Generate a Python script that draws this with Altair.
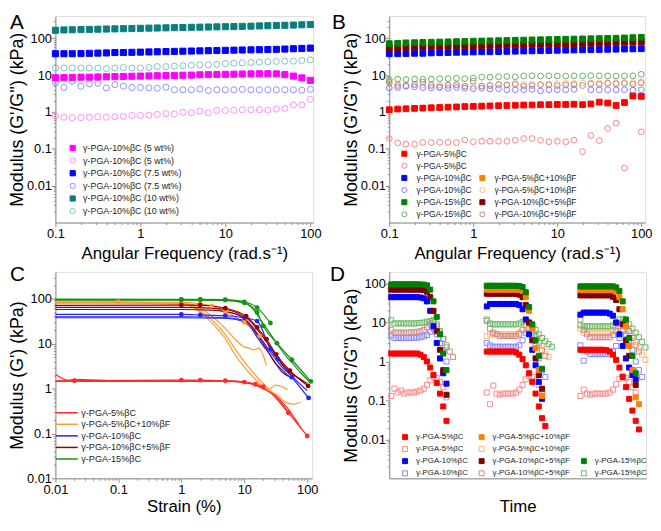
import altair as alt
import pandas as pd

FONT = "Liberation Sans"
GRAY = "#8c8c8c"

# ---------------- tick values ----------------
FREQ_TICKS = [0.1, 1, 10, 100]
MOD_TICKS = [0.01, 0.1, 1, 10, 100]
STRAIN_TICKS = [0.01, 0.1, 1, 10, 100]

# ---------------- panel A (frequency sweep, concentrations) ----------------
FREQ = [0.1, 0.126, 0.158, 0.2, 0.251, 0.316, 0.398, 0.501, 0.631, 0.794,
        1, 1.26, 1.58, 2, 2.51, 3.16, 3.98, 5.01, 6.31, 7.94,
        10, 12.6, 15.8, 20, 25.1, 31.6, 39.8, 50.1, 63.1, 79.4, 100]

A_LABELS = ["γ-PGA-10%βC (5 wt%)", "γ-PGA-10%βC (5 wt%)",
            "γ-PGA-10%βC (7.5 wt%)", "γ-PGA-10%βC (7.5 wt%)",
            "γ-PGA-10%βC (10 wt%)", "γ-PGA-10%βC (10 wt%)"]
A5_GP = [8.5, 8.6, 8.7, 8.8, 8.8, 8.9, 9.0, 9.1, 9.2, 9.3, 9.4, 9.5, 9.6, 9.7, 9.8,
         9.9, 10.0, 10.2, 10.3, 10.4, 10.5, 10.6, 10.7, 10.8, 10.9, 10.9, 10.8, 10.3, 9.4, 8.4, 7.2]
A5_GPP = [0.78, 0.72, 0.70, 0.70, 0.72, 0.74, 0.72, 0.74, 0.76, 0.80, 0.80, 0.82, 0.86, 0.90, 0.88,
          0.98, 0.95, 1.05, 0.95, 1.1, 1.1, 1.1, 1.15, 1.15, 1.15, 1.12, 1.2, 1.25, 1.55, 1.55, 2.2]
A75_GP = [38, 38, 38, 38.5, 39, 39.5, 40, 41, 41, 41.5, 42, 42.5, 43, 43.5, 44, 44.5,
          45, 45.5, 46, 46.5, 47, 47.5, 48, 48.5, 49, 49.5, 50, 51, 52, 53, 54]
A75_GPP = [6.2, 4.6, 6.8, 5.0, 5.8, 6.0, 4.5, 5.5, 5.0, 4.6, 4.6, 4.5, 4.4, 4.7, 4.0, 4.0,
           4.0, 4.2, 3.8, 4.0, 4.0, 4.0, 4.1, 4.0, 4.0, 4.0, 4.0, 4.0, 4.0, 3.9, 4.1]
A10_GP = [165, 168, 170, 172, 174, 176, 178, 180, 182, 184, 186, 188, 190, 192, 194, 196,
          198, 200, 202, 204, 206, 208, 210, 213, 216, 219, 222, 225, 228, 232, 235]
A10_GPP = [15.5, 15.5, 15.5, 15.5, 15.5, 15.5, 15.0, 15.5, 16.0, 15.5, 15.5, 16.0, 17.0, 17.0,
           17.5, 18.0, 18.5, 19.0, 19.0, 19.5, 20.5, 21.0, 21.5, 22.0, 22.5, 23.0, 23.5, 24.0,
           24.0, 25.0, 26.0]
A_VALUES = [A5_GP, A5_GPP, A75_GP, A75_GPP, A10_GP, A10_GPP]
A_FILL = ["#ff00ff", "transparent", "#0000ff", "transparent", "#0b7d7d", "transparent"]
A_STROKE = ["#ff00ff", "#ff8cff", "#0000ff", "#8f8fff", "#0b7d7d", "#7fc2c2"]
A_SHAPE = ["square", "circle", "square", "circle", "square", "circle"]
A_ORDER = [5, 3, 1, 4, 2, 0]

# ---------------- panel B (frequency sweep, compositions) ----------------
# legend entries listed column by column (2 columns x 6 rows)
B_LABELS = ["γ-PGA-5%βC", "γ-PGA-5%βC", "γ-PGA-10%βC", "γ-PGA-10%βC",
            "γ-PGA-15%βC", "γ-PGA-15%βC", "", "",
            "γ-PGA-5%βC+10%βF", "γ-PGA-5%βC+10%βF", "γ-PGA-10%βC+5%βF", "γ-PGA-10%βC+5%βF"]
B_RED_GP = [1.15, 1.2, 1.22, 1.25, 1.27, 1.3, 1.32, 1.35, 1.37, 1.4, 1.42, 1.44, 1.46, 1.48, 1.5,
            1.52, 1.54, 1.55, 1.57, 1.58, 1.6, 1.6, 1.62, 1.58, 1.65, 1.85, 1.75, 1.5, 1.8, 2.7, 2.65]
B_RED_GPP = [0.19, 0.145, 0.134, 0.134, 0.148, 0.148, 0.15, 0.15, 0.148, 0.174, 0.155, 0.16, 0.16,
             0.16, 0.16, 0.17, 0.19, 0.19, 0.17, 0.155, 0.16, 0.155, 0.17, 0.084, 0.23, 0.167,
             0.355, 0.5, 0.03, None, 0.29]
B_BLUE_GP = [38, 38, 38.5, 39, 39, 40, 40.5, 41, 41.5, 42, 42.5, 43, 43, 43.5, 44, 44.5, 45,
             45.5, 46, 46.5, 47, 47.5, 48, 48.5, 49, 49.5, 50, 50.5, 51, 51.5, 52]
B_BLUE_GPP = [4.5, 4.6, 5.0, 4.8, 4.6, 4.5, 4.6, 4.4, 4.6, 4.4, 4.3, 4.4, 4.2, 4.3, 4.0, 4.0,
              4.0, 4.1, 3.7, 4.0, 4.0, 4.0, 4.1, None, 4.0, 4.0, 4.0, 4.0, 4.0, 3.9, 4.0]
B_ORG_GP = [53, 54, 55, 56, 57, 58, 58, 59, 60, 60, 61, 62, 62, 63, 64, 64, 65, 66, 67, 68,
            68, 69, 70, 71, 72, 73, 74, 75, 76, 77, 78]
B_ORG_GPP = [6.0, 5.8, 5.5, 5.5, 5.4, 5.5, 5.4, 5.3, 5.2, 5.0, 5.0, 5.1, 5.2, 5.3, 5.4, 5.5,
             5.6, 5.7, 5.6, 5.8, 5.9, 6.0, 6.0, 6.1, 6.0, 6.1, 6.2, 6.2, 6.3, 6.3, 6.4]
B_GRN_GP = [71, 73, 75, 76, 77, 78, 79, 80, 81, 82, 83, 84, 85, 86, 87, 88, 89, 90, 91, 92,
            93, 94, 95, 96, 97, 98, 99, 100, 102, 104, 106]
B_GRN_GPP = [7.5, 7.8, 7.6, 7.8, 7.7, 7.8, 8.0, 8.0, 8.2, 8.0, 8.3, 8.8, 8.8, 9.0, 9.2, 9.0,
             9.5, 9.6, 9.5, 9.6, 9.5, 9.4, 9.6, 9.5, 9.7, 9.6, 9.5, 9.4, 9.5, 9.6, 10.5]
B_DRD_GP = [55, 56, 57, 58, 59, 60, 60, 61, 62, 62, 63, 64, 64, 65, 66, 66, 67, 68, 69, 70,
            70, 71, 72, 73, 74, 75, 76, 77, 78, 79, 80]
B_DRD_GPP = [6.5, 5.2, 5.0, 5.6, 6.5, 5.2, 4.8, 5.3, 5.5, 5.0, 6.8, 5.0, 5.2, 5.6, 5.4, 5.8,
             5.0, 5.2, 5.5, 5.4, 5.2, 5.4, 5.5, 5.2, 5.8, 5.6, 6.0, 5.8, 6.0, 5.7, 6.2]
B_VALUES = [B_RED_GP, B_RED_GPP, B_BLUE_GP, B_BLUE_GPP, B_GRN_GP, B_GRN_GPP, None, None,
            B_ORG_GP, B_ORG_GPP, B_DRD_GP, B_DRD_GPP]

RED, RED_L = "#ff0000", "#ff8080"
BLU, BLU_L = "#0000ff", "#8080ff"
GRN, GRN_L = "#008000", "#60b060"
ORG, ORG_L = "#ff8000", "#ffbf80"
DRD, DRD_L = "#800000", "#c48484"
T = "transparent"
B_FILL = [RED, T, BLU, T, GRN, T, T, T, ORG, T, DRD, T]
B_STROKE = [RED, RED_L, BLU, BLU_L, GRN, GRN_L, T, T, ORG, ORG_L, DRD, DRD_L]
B_SHAPE = ["square", "circle", "square", "circle", "square", "circle", "circle", "circle",
           "square", "circle", "square", "circle"]
B_ORDER = [8, 9, 11, 3, 5, 1, 0, 2, 10, 4]

# ---------------- panel C (strain sweep) ----------------
C_GROUPS = ["γ-PGA-5%βC", "γ-PGA-5%βC+10%βF", "γ-PGA-10%βC", "γ-PGA-10%βC+5%βF", "γ-PGA-15%βC"]
C_COLORS = ["#ff2a2a", "#ff9b30", "#2323ff", "#9b0000", "#139413"]
# (group, strain %, G' kPa, drawn with markers)
C_REPS = [
    (0, [0.01, 0.02, 1, 2, 5, 10, 15, 20, 50, 100],
        [1.5, 1.5, 1.55, 1.55, 1.5, 1.4, 1.25, 1.1, 0.29, 0.088], True),
    (0, [0.01, 0.0158, 0.02, 0.1, 1, 5, 10, 15, 20, 30, 40, 50, 63, 80],
        [2.1, 1.55, 1.6, 1.5, 1.5, 1.5, 1.4, 1.25, 1.05, 0.75, 0.5, 0.35, 0.22, 0.13], False),
    (0, [0.01, 0.1, 1, 5, 10, 15, 20, 30, 40, 50],
        [1.45, 1.45, 1.45, 1.45, 1.35, 1.2, 1.0, 0.7, 0.45, 0.3], False),
    (1, [0.01, 0.1, 1, 2, 3, 5, 10, 17.6],
        [86, 86, 84, 78, 70, 50, 30, 15], True),
    (1, [0.01, 0.1, 1, 1.5, 2, 3, 5, 7, 10, 12, 14, 17, 22.5],
        [84, 84, 80, 74, 62, 42, 22, 13, 8.5, 8.0, 7.3, 8.0, 3.3], False),
    (1, [0.01, 0.1, 1, 1.5, 2, 3, 5, 7, 10, 15, 20, 25, 32, 40, 48.5],
        [82, 82, 78, 70, 55, 35, 16, 8, 4, 2, 1.3, 1.0, 1.2, 1.1, 0.95], False),
    (1, [0.01, 0.1, 1, 1.5, 2, 3, 5, 7, 10, 15, 20, 25, 32, 45, 60, 78],
        [80, 80, 76, 66, 50, 30, 13, 6, 3, 1.6, 1.1, 0.9, 0.74, 0.5, 0.45, 0.49], False),
    (2, [0.01, 1, 2, 5, 10, 16, 26, 34, 57, 105],
        [45, 45, 44, 42, 38, 32, 7.6, 4.6, 1.8, 0.62], True),
    (2, [0.01, 0.1, 1, 5, 10, 13, 16, 20, 25, 30, 40, 55, 80, 100],
        [40, 40, 40, 38, 33, 25, 17, 11, 7, 5, 3, 2, 1.2, 0.9], False),
    (2, [0.01, 0.1, 1, 5, 10, 13, 16, 20, 25, 30, 40, 55],
        [38, 38, 38, 37, 31, 22, 14, 9, 6, 4, 2.6, 1.7], False),
    (3, [0.01, 1, 2, 5, 10.7, 16, 22.5, 32, 53, 103],
        [72, 73, 73, 62, 41, 23, 12.6, 5.8, 2.5, 1.15], True),
    (3, [0.01, 0.1, 1, 3, 5, 8, 10, 13, 16, 20, 25, 32, 40, 55, 80, 100],
        [65, 65, 65, 62, 58, 48, 40, 30, 21, 14, 9, 5.5, 3.5, 2.2, 1.6, 1.3], False),
    (3, [0.01, 0.1, 1, 3, 5, 8, 10, 13, 16, 20, 25, 32, 40, 50],
        [58, 58, 58, 56, 52, 44, 36, 25, 16, 10, 6, 3.5, 2.3, 1.9], False),
    (4, [0.01, 1, 2, 5, 10, 16, 26],
        [99, 98, 98, 96, 86, 64, 29], True),
    (4, [0.01, 1, 2, 5, 10, 16, 20, 33, 57, 114],
        [96, 96, 96, 94, 82, 50, 25, 10.3, 4.4, 1.45], True),
    (4, [0.01, 0.1, 1, 5, 10, 13, 16, 20, 25, 33, 45, 60, 80, 110],
        [94, 94, 94, 92, 80, 65, 45, 28, 18, 10, 5.5, 3.5, 2.2, 1.4], False),
]

# ---------------- panel D (recovery, three cycles) ----------------
# legend entries listed column by column (3 columns x 4 rows)
D_LABELS = ["γ-PGA-5%βC", "γ-PGA-5%βC", "γ-PGA-10%βC", "γ-PGA-10%βC",
            "γ-PGA-5%βC+10%βF", "γ-PGA-5%βC+10%βF", "γ-PGA-10%βC+5%βF", "γ-PGA-10%βC+5%βF",
            "", "", "γ-PGA-15%βC", "γ-PGA-15%βC"]
D_START = [0.6, 30.0, 58.8]   # time at which each cycle starts
D_STEP = 1.0                  # sampling interval
D_RED_GP = [
    [1.6, 1.6, 1.6, 1.6, 1.6, 1.6, 1.6, 1.6, 1.6, 1.5, 1.3, 1.0, 0.7, 0.45, 0.28, 0.15, 0.07, 0.03],
    [1.8, 1.8, 1.8, 1.8, 1.8, 1.8, 1.8, 1.8, 1.8, 1.7, 1.5, 1.15, 0.8, 0.5, 0.3, 0.15, 0.07, 0.035, 0.022],
    [2.0, 2.0, 2.0, 2.0, 2.0, 2.0, 2.0, 2.0, 1.95, 1.8, 1.5, 1.1, 0.7, 0.4, 0.22, 0.11, 0.055, 0.03, 0.018]]
D_ORG_GP = [
    [],
    [70, 70, 70, 70, 70, 70, 70, 70, 70, 70, 70, 65, 45, 20, 7, 2.2, 0.6, 0.13],
    [68, 68, 68, 68, 68, 68, 68, 68, 68, 68, 68, 62, 45, 22, 8, 2.5, 0.6, 0.12, 0.08]]
D_RED_GPP = [
    [0.13, 0.2, 0.16, 0.18, 0.15, 0.16, 0.16, 0.16, 0.17, 0.18, 0.2, 0.25, 0.33, 0.4, 0.38, 0.3, 0.22, 0.12],
    [0.16, 0.08, 0.24, 0.15, 0.14, 0.15, 0.15, 0.15, 0.15, 0.16, 0.19, 0.25, 0.35, 0.42, 0.4, 0.32, 0.25, 0.18],
    [0.13, 0.19, 0.15, 0.14, 0.15, 0.15, 0.15, 0.15, 0.15, 0.16, 0.19, 0.26, 0.36, 0.42, 0.38, 0.3, 0.22, 0.16]]
D_ORG_GPP = [
    [],
    [4.5, 5, 5, 5, 5, 5, 5, 5, 5, 5, 5.5, 6.5, 8, 7.5, 6, 4.5, 3.3, 2.5, 1.8, 1.3],
    [7, 5.5, 5.5, 5.5, 5.5, 5.5, 5.5, 5.5, 5.5, 5.5, 6, 7.5, 9, 9.5, 8, 6, 4.5, 3.2, 2.2, 1.5, 1.1]]
D_BLU_GP = [
    [45, 45, 45, 45, 45, 45, 45, 45, 45, 44, 42, 35, 20, 8, 3, 1.2, 0.5, 0.27],
    [26, 30, 30, 30, 30, 30, 30, 30, 30, 30, 28, 22, 12, 5, 2, 0.8, 0.3, 0.11],
    [16, 18, 18, 18, 18, 18, 18, 18, 18, 17, 15, 10, 5, 2.5, 1.2, 0.7, 0.45, 0.35]]
D_DRD_GP = [
    [70, 70, 70, 70, 70, 70, 70, 70, 70, 70, 68, 62, 45, 20, 6, 2, 0.6, 0.14],
    [55, 55, 55, 55, 55, 55, 55, 55, 55, 55, 52, 45, 28, 10, 3.5, 1.2, 0.45, 0.2],
    [50, 50, 50, 50, 50, 50, 50, 50, 50, 50, 46, 38, 22, 9, 3.5, 1.4, 0.6, 0.25]]
D_GRN_GP = [
    [95, 96, 96, 96, 96, 96, 96, 96, 96, 95, 94, 90, 70, 35, 14, 5, 1.6, 0.6],
    [88, 88, 88, 88, 88, 88, 88, 88, 88, 88, 87, 82, 60, 25, 9, 3.5, 1.4, 0.65],
    [85, 85, 85, 85, 85, 85, 85, 85, 85, 85, 85, 80, 65, 35, 12, 4, 1.4, 0.5]]
D_BLU_GPP = [
    [4.6, 4.0, 4.0, 4.0, 4.0, 4.0, 4.0, 4.1, 4.1, 4.2, 4.4, 4.8, 5.8, 7.0, 5, 3, 1.8, 1.0],
    [3.0, 2.6, 2.4, 2.4, 2.4, 2.4, 2.4, 2.4, 2.4, 2.4, 2.6, 3.5, 5.5, 7, 4.5, 2.5, 1.2, 0.6, 0.4],
    [2.6, 1.05, 1.8, 1.55, 1.55, 1.55, 1.55, 1.55, 1.55, 1.55, 1.8, 2.5, 4, 6, 5, 3.5, 2, 1.0, 0.6, 0.4]]
D_DRD_GPP = [
    [6.5, 5.5, 5.5, 5.5, 5.5, 5.5, 5.6, 5.6, 5.8, 6, 6.5, 7.5, 9, 10, 8, 5.5, 3.8, 2.6, 1.8, 1.3],
    [12, 7, 5.5, 5, 4.5, 4.5, 4.5, 4.5, 4.5, 4.5, 5, 6.5, 9, 10, 7, 4.5, 3, 2, 1.4],
    [12, 6.5, 5, 4.2, 4.2, 4.2, 4.2, 4.2, 4.2, 4.2, 4.8, 6, 8, 10, 8.5, 6, 4, 2.6, 1.8]]
D_GRN_GPP = [
    [11.5, 9.5, 9.5, 9.5, 9.5, 9.5, 9.5, 9.5, 9.6, 9.8, 10, 10.5, 11, 11.5, 9, 6, 3.8, 2.3],
    [11, 9.5, 9, 9, 9, 9, 9, 9, 9, 9, 9.5, 10.5, 11.5, 10, 8, 6.5, 5, 4, 3.3, 2.8, 2.4],
    [8.5, 8, 8, 8, 8, 8, 8, 8, 8, 8, 8.5, 10, 12, 12.5, 11, 9, 7, 5.5, 4.2, 3.2, 2.3]]
D_VALUES = [D_RED_GP, D_RED_GPP, D_BLU_GP, D_BLU_GPP, D_ORG_GP, D_ORG_GPP, D_DRD_GP, D_DRD_GPP,
            None, None, D_GRN_GP, D_GRN_GPP]
D_FILL = [RED, T, BLU, T, ORG, T, DRD, T, T, T, GRN, T]
D_STROKE = [RED, "#ff8a8a", BLU, "#8585ff", ORG, "#ffb870", DRD, "#cc8a8a", T, T, GRN, "#66b866"]
D_SHAPE = ["square"] * 12
D_ORDER = [1, 3, 5, 7, 11, 0, 2, 6, 4, 10]


# ---------------- helpers ----------------
def keyed(labels):
    return [f"{chr(97 + i)}|{lab}" for i, lab in enumerate(labels)]


def minor_values(lo, hi):
    out = []
    for e in range(-4, 4):
        for m in range(2, 10):
            v = round(m * 10.0 ** e, 8)
            if lo < v < hi:
                out.append(v)
    return out


def main_axis(orient, title, values=None, labels=True, ticks=True, title_pad=0, label_pad=0,
              title_size=17):
    kw = dict(orient=orient, title=title, grid=False, format="~g", labels=labels, ticks=ticks,
              labelFont=FONT, labelFontSize=13, labelColor="black", labelPadding=label_pad,
              labelFlush=False, labelOverlap=False,
              titleFont=FONT, titleFontSize=title_size, titleFontWeight="normal",
              titleColor="black", titlePadding=title_pad, tickSize=4, tickColor=GRAY,
              tickWidth=1, domainColor=GRAY, domainWidth=1)
    if values is not None:
        kw["values"] = values
    return alt.Axis(**kw)


def minor_axis(orient, values):
    return alt.Axis(orient=orient, values=values, labels=False, title=None, grid=False,
                    domain=False, tickSize=2, tickColor=GRAY, tickWidth=1)


def letter_layer(letter, lx, ly):
    return alt.Chart(pd.DataFrame({"t": [letter]})).mark_text(
        font=FONT, fontSize=21, align="left", baseline="top", color="black"
    ).encode(text="t:N", x=alt.value(lx), y=alt.value(ly))


def scatter_legend(lx, ly, cols, fsize, rowpad, colpad, symsize, laboff):
    return alt.Legend(title=None, orient="none", legendX=lx, legendY=ly, columns=cols,
                      labelExpr="slice(datum.label, 2)", labelFont=FONT, labelFontSize=fsize,
                      labelColor="#222222", labelOffset=laboff, symbolSize=symsize,
                      symbolStrokeWidth=1, rowPadding=rowpad, columnPadding=colpad,
                      padding=0, offset=0)


def scatter_panel(rows, keys, fills, strokes, shapes, size, xs, ys, xaxis, yaxis,
                  xminor, yminor, legend, letter, lx, ly, w, h):
    df = pd.DataFrame(rows)
    base = alt.Chart(df)
    pts = base.mark_point(filled=True, opacity=1, size=size, strokeWidth=1).encode(
        x=alt.X("x:Q", scale=xs, axis=xaxis),
        y=alt.Y("y:Q", scale=ys, axis=yaxis),
        fill=alt.Fill("key:N", scale=alt.Scale(domain=keys, range=fills), legend=legend),
        stroke=alt.Stroke("key:N", scale=alt.Scale(domain=keys, range=strokes), legend=legend),
        shape=alt.Shape("key:N", scale=alt.Scale(domain=keys, range=shapes), legend=legend),
    )
    minor = base.mark_point(opacity=0).encode(
        x=alt.X("x:Q", scale=xs, axis=xminor),
        y=alt.Y("y:Q", scale=ys, axis=yminor),
    )
    return alt.layer(pts, minor, letter_layer(letter, lx, ly)).resolve_axis(
        x="independent", y="independent").properties(width=w, height=h)


freq_title = "Angular Frequency (rad.s⁻¹)"
mod_title = "Modulus (G'/G'') (kPa)"
H1, H2 = 209, 209

# ---------------- panel A ----------------
a_keys = keyed(A_LABELS)
a_rows = []
for i in A_ORDER:
    for x, y in zip(FREQ, A_VALUES[i]):
        if y is not None:
            a_rows.append({"key": a_keys[i], "x": x, "y": y})
A_XS = alt.Scale(type="log", domain=[0.1, 108], nice=False)
A_YS = alt.Scale(type="log", domain=[0.001, 400], nice=False)
pA = scatter_panel(
    a_rows, a_keys, A_FILL, A_STROKE, A_SHAPE, 38, A_XS, A_YS,
    main_axis("bottom", freq_title, FREQ_TICKS, title_pad=5, label_pad=1),
    main_axis("left", mod_title, MOD_TICKS, title_size=18),
    minor_axis("bottom", minor_values(0.1, 108)),
    minor_axis("left", minor_values(0.001, 400)),
    scatter_legend(13, 129, 1, 9, 1.8, 10, 28, 6),
    "A", -46, -4, 261, H1)

# ---------------- panel B ----------------
b_keys = keyed(B_LABELS)
b_rows = []
for i in B_ORDER:
    for x, y in zip(FREQ, B_VALUES[i]):
        if y is not None:
            b_rows.append({"key": b_keys[i], "x": x, "y": y})
B_XS = alt.Scale(type="log", domain=[0.1, 111], nice=False)
pB = scatter_panel(
    b_rows, b_keys, B_FILL, B_STROKE, B_SHAPE, 34, B_XS, A_YS,
    main_axis("bottom", freq_title, FREQ_TICKS, title_pad=5, label_pad=1),
    main_axis("left", mod_title, MOD_TICKS, title_size=18),
    minor_axis("bottom", minor_values(0.1, 111)),
    minor_axis("left", minor_values(0.001, 400)),
    scatter_legend(11, 135, 2, 8.5, 2.3, 5, 26, 8),
    "B", -58, -4, 259, H1)

# ---------------- panel C ----------------
c_rows = []
for r, (g, xs_, ys_, mk) in enumerate(C_REPS):
    for j, (x, y) in enumerate(zip(xs_, ys_)):
        c_rows.append({"grp": C_GROUPS[g], "rep": r, "x": x, "y": y, "mk": bool(mk and j > 0)})
c_df = pd.DataFrame(c_rows)
C_XS = alt.Scale(type="log", domain=[0.01, 120], nice=False)
C_YS = alt.Scale(type="log", domain=[0.01, 400], nice=False)
c_color = alt.Scale(domain=C_GROUPS, range=C_COLORS)
c_legend = alt.Legend(title=None, orient="none", legendX=7, legendY=138,
                      symbolType="M-3,0H3", symbolSize=54, symbolStrokeWidth=1.5,
                      labelFont=FONT, labelFontSize=9.2, labelColor="#222222",
                      labelOffset=10, rowPadding=1.7, padding=0, offset=0)
c_lines = alt.Chart(c_df).mark_line(strokeWidth=1.2, interpolate="monotone").encode(
    x=alt.X("x:Q", scale=C_XS, axis=main_axis("bottom", "Strain (%)", STRAIN_TICKS,
                                              title_pad=3, label_pad=1)),
    y=alt.Y("y:Q", scale=C_YS, axis=main_axis("left", "Modulus (G') (kPa)", MOD_TICKS,
                                              title_size=18)),
    color=alt.Color("grp:N", scale=c_color, legend=c_legend),
    detail="rep:N",
)
c_marks = alt.Chart(c_df).transform_filter("datum.mk").mark_circle(size=24, opacity=1).encode(
    x=alt.X("x:Q", scale=C_XS, axis=None),
    y=alt.Y("y:Q", scale=C_YS, axis=None),
    color=alt.Color("grp:N", scale=c_color, legend=c_legend),
)
c_minor = alt.Chart(c_df).mark_point(opacity=0).encode(
    x=alt.X("x:Q", scale=C_XS, axis=minor_axis("bottom", minor_values(0.01, 120))),
    y=alt.Y("y:Q", scale=C_YS, axis=minor_axis("left", minor_values(0.01, 400))),
)
pC = alt.layer(c_lines, c_marks, c_minor, letter_layer("C", -46, -8)).resolve_axis(
    x="independent", y="independent").properties(width=260, height=H2)

# ---------------- panel D ----------------
d_keys = keyed(D_LABELS)
d_rows = []
for i in D_ORDER:
    for c, cycle_vals in enumerate(D_VALUES[i]):
        for k, y in enumerate(cycle_vals):
            d_rows.append({"key": d_keys[i], "x": D_START[c] + k * D_STEP, "y": y})
D_XS = alt.Scale(type="linear", domain=[0, 79], nice=False, zero=False)
D_YS = alt.Scale(type="log", domain=[0.001, 200], nice=False)
pD = scatter_panel(
    d_rows, d_keys, D_FILL, D_STROKE, D_SHAPE, 26, D_XS, D_YS,
    main_axis("bottom", "Time", labels=False, ticks=False, title_pad=21),
    main_axis("left", mod_title, MOD_TICKS, title_size=18),
    None,
    minor_axis("left", minor_values(0.001, 200)),
    scatter_legend(12, 163, 3, 8, 2.3, 8.5, 25, 7),
    "D", -60, -8, 260, H2)

RES = dict(x="independent", y="independent", fill="independent", stroke="independent",
           shape="independent", color="independent")
row1 = alt.hconcat(pA, pB, spacing=77, bounds="flush").resolve_scale(**RES)
row2 = alt.hconcat(pC, pD, spacing=78, bounds="flush").resolve_scale(**RES)
chart = alt.vconcat(row1, row2, spacing=1).resolve_scale(**RES).properties(
    padding=0
).configure_view(stroke=GRAY, strokeWidth=1).configure(font=FONT)

chart.save("out.html", embed_options={"renderer": "svg", "actions": False})
